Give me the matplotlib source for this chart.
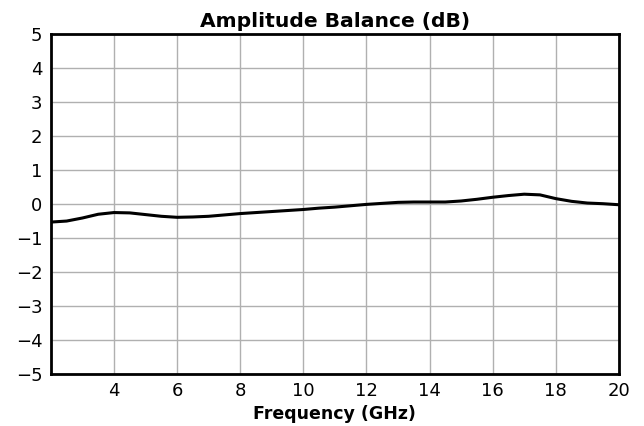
import matplotlib
matplotlib.use("Agg")
import matplotlib.pyplot as plt

# amplitude balance (GHz, dB)
freq_ghz = [2.0, 2.5, 3.0, 3.5, 4.0, 4.5, 5.0, 5.5, 6.0, 6.5, 7.0, 7.5, 8.0,
            8.5, 9.0, 9.5, 10.0, 10.5, 11.0, 11.5, 12.0, 12.5, 13.0, 13.5,
            14.0, 14.5, 15.0, 15.5, 16.0, 16.5, 17.0, 17.5, 18.0, 18.5,
            19.0, 19.5, 20.0]
balance_db = [-0.53, -0.50, -0.41, -0.30, -0.25, -0.26, -0.31, -0.36, -0.39,
              -0.38, -0.36, -0.32, -0.28, -0.25, -0.22, -0.19, -0.16, -0.12,
              -0.09, -0.05, -0.01, 0.02, 0.05, 0.06, 0.06, 0.06, 0.09, 0.14,
              0.20, 0.25, 0.29, 0.27, 0.16, 0.08, 0.03, 0.01, -0.02]

fig, ax = plt.subplots(figsize=(6.44, 4.26), dpi=100)
ax.plot(freq_ghz, balance_db, color="black", lw=2.2)

ax.set_xlim(2, 20)
ax.set_ylim(-5, 5)
ax.set_xticks([4, 6, 8, 10, 12, 14, 16, 18, 20])
ax.set_yticks(range(-5, 6))
ax.grid(True, color="#b0b0b0", lw=1)
ax.tick_params(labelsize=13, length=0, pad=6)
for s in ax.spines.values():
    s.set_linewidth(2)

ax.set_title("Amplitude Balance (dB)", fontsize=14.6, fontweight="bold", pad=5)
ax.set_xlabel("Frequency (GHz)", fontsize=12.5, fontweight="bold", labelpad=3)

fig.subplots_adjust(left=0.079, right=0.961, top=0.92, bottom=0.122)
fig.savefig("out.png", dpi=100)
